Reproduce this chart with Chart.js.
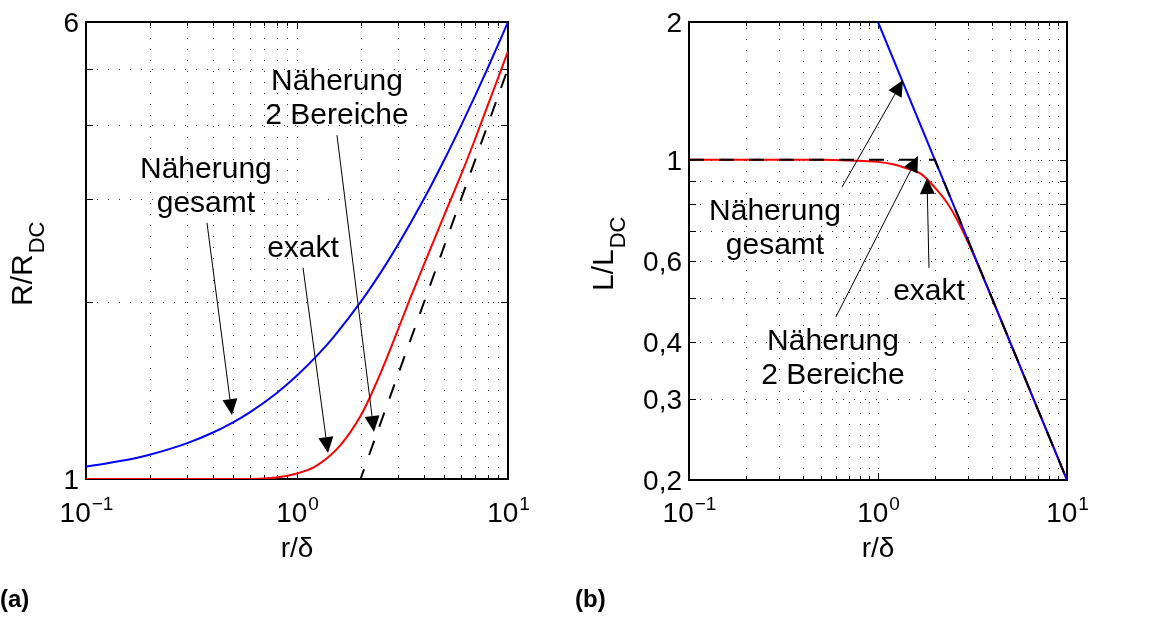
<!DOCTYPE html>
<html>
<head>
<meta charset="utf-8">
<script src="https://cdn.jsdelivr.net/npm/chart.js@4.4.1/dist/chart.umd.min.js"></script>
<style>
  html, body { margin: 0; padding: 0; background: #fff; }
  #wrap { position: relative; width: 1158px; height: 621px; }
  canvas { position: absolute; top: 0; }
</style>
</head>
<body>
<div id="wrap">
  <canvas id="chartR" width="570" height="621" style="left:0"></canvas>
  <canvas id="chartL" width="588" height="621" style="left:570px"></canvas>
</div>
<script>
// r/delta axis (shared by both panels)
const xDecades = [0.1, 1, 10];
const xDecadeExp = ['\u22121', '0', '1'];
const xMinor = [0.2, 0.3, 0.4, 0.5, 0.6, 0.7, 0.8, 0.9, 2, 3, 4, 5, 6, 7, 8, 9];

// (a) R/R_DC
const rTicks = [1, 2, 3, 4, 5, 6];
const rTickLabels = ['1', '', '', '', '', '6'];
const rExactX = [0.1, 0.5, 0.7, 0.8, 0.9, 1.0, 1.2, 1.4, 1.6, 1.8, 2.0, 2.2, 2.5, 2.8, 3.0, 3.4, 4.0, 5.0, 6.0, 7.0, 8.0, 9.0, 10];
const rExactY = [1.0, 1.0, 1.002, 1.006, 1.013, 1.022, 1.047, 1.088, 1.14, 1.205, 1.28, 1.37, 1.52, 1.68, 1.79, 2.01, 2.32, 2.82, 3.30, 3.80, 4.32, 4.83, 5.35];
const rTotalX = [0.1, 0.15, 0.2, 0.3, 0.4, 0.5, 0.6, 0.8, 1, 1.25, 1.5, 2, 2.5, 3, 4, 5, 6, 7, 8, 9, 10];
const rTotalY = [1.05, 1.075, 1.1, 1.15, 1.2, 1.25, 1.3, 1.4, 1.5, 1.625, 1.75, 2, 2.25, 2.5, 3, 3.5, 4, 4.5, 5, 5.5, 6];
const rTwoX = [0.1, 2, 10];
const rTwoY = [1, 1, 5];

// (b) L/L_DC
const lTicks = [0.2, 0.3, 0.4, 0.5, 0.6, 0.7, 0.8, 0.9, 1, 2];
const lTickLabels = ['0,2', '0,3', '0,4', '', '0,6', '', '', '', '1', '2'];
const lExactX = [0.1, 0.5, 0.7, 1, 1.2, 1.4, 1.7, 2, 2.3, 2.6, 3, 3.5, 4, 5, 6, 8, 10];
const lExactY = [1, 1, 0.997, 0.99, 0.978, 0.96, 0.93, 0.87, 0.81, 0.745, 0.66, 0.57, 0.5, 0.4, 0.333, 0.25, 0.2];
const lTotalX = [1, 10];
const lTotalY = [2, 0.2];
const lTwoX = [0.1, 2, 10];
const lTwoY = [1, 1, 0.2];

// labelled arrows, positions in data units: text anchor, line start, arrow tip
const rNotes = [
  { lines: ['Näherung', 'gesamt'], at: [0.370, 3.25], from: [0.3745, 2.73], to: [0.492, 1.285] },
  { lines: ['exakt'], at: [1.068, 2.39], from: [1.068, 2.29], to: [1.403, 1.107] },
  { lines: ['Näherung', '2 Bereiche'], at: [1.547, 4.60], from: [1.547, 3.85], to: [2.317, 1.202] }
];
const lNotes = [
  { lines: ['Näherung', 'gesamt'], at: [0.285, 0.739], from: [0.645, 0.872], to: [1.356, 1.494] },
  { lines: ['exakt'], at: [1.861, 0.494], from: [1.861, 0.581], to: [1.817, 0.913] },
  { lines: ['Näherung', '2 Bereiche'], at: [0.578, 0.3845], from: [0.599, 0.454], to: [1.628, 1.02] }
];

const FONT = '"Liberation Sans", Arial, Helvetica, sans-serif';
const BLUE = '#0000ff', RED = '#ff0000', BLACK = '#000000';

function pts(xs, ys) {
  return xs.map((x, i) => ({ x: x, y: ys[i] }));
}

function curve(label, xs, ys, color, dashed) {
  return {
    label: label,
    data: pts(xs, ys),
    borderColor: color,
    borderWidth: 2,
    borderDash: dashed ? [15, 15] : [],
    pointRadius: 0,
    fill: false,
    cubicInterpolationMode: dashed ? 'default' : 'monotone'
  };
}

// matlab-like box, dotted grid, inner ticks, labels and arrows
function axesPlugin(spec) {
  return {
    id: 'matlabAxes',
    beforeDatasetsDraw(chart) {
      const { ctx, chartArea: a, scales: { x, y } } = chart;
      ctx.save();
      ctx.strokeStyle = '#333';
      ctx.lineWidth = 1;
      ctx.setLineDash([1, 10]);
      ctx.beginPath();
      xDecades.concat(xMinor).forEach(v => {
        const px = Math.round(x.getPixelForValue(v)) + 0.5;
        ctx.moveTo(px, a.bottom);
        ctx.lineTo(px, a.top);
      });
      spec.yTicks.forEach(v => {
        const py = Math.round(y.getPixelForValue(v)) + 0.5;
        ctx.moveTo(a.left, py);
        ctx.lineTo(a.right, py);
      });
      ctx.stroke();
      ctx.setLineDash([]);

      // ticks on all four sides, pointing inwards
      ctx.strokeStyle = BLACK;
      ctx.beginPath();
      xDecades.concat(xMinor).forEach(v => {
        const px = Math.round(x.getPixelForValue(v)) + 0.5;
        const len = xDecades.includes(v) ? 7 : 4;
        ctx.moveTo(px, a.bottom); ctx.lineTo(px, a.bottom - len);
        ctx.moveTo(px, a.top); ctx.lineTo(px, a.top + len);
      });
      spec.yTicks.forEach(v => {
        const py = Math.round(y.getPixelForValue(v)) + 0.5;
        ctx.moveTo(a.left, py); ctx.lineTo(a.left + 7, py);
        ctx.moveTo(a.right, py); ctx.lineTo(a.right - 7, py);
      });
      ctx.stroke();

      // box under the curves so the y=1 lines stay visible
      ctx.lineWidth = 2;
      ctx.strokeRect(a.left, a.top, a.right - a.left, a.bottom - a.top);
      ctx.restore();
    },
    afterDatasetsDraw(chart) {
      const { ctx, chartArea: a, scales: { x, y } } = chart;
      ctx.save();
      ctx.strokeStyle = BLACK;
      ctx.fillStyle = BLACK;

      // y tick labels
      ctx.font = '28px ' + FONT;
      ctx.textAlign = 'right';
      ctx.textBaseline = 'alphabetic';
      spec.yTicks.forEach((v, i) => {
        if (!spec.yLabels[i]) return;
        ctx.fillText(spec.yLabels[i], a.left - 7, y.getPixelForValue(v) + 10);
      });

      // x tick labels 10^n
      xDecades.forEach((v, i) => {
        const px = x.getPixelForValue(v);
        ctx.font = '28px ' + FONT;
        const wBase = ctx.measureText('10').width;
        ctx.font = '19px ' + FONT;
        const wExp = ctx.measureText(xDecadeExp[i]).width;
        const left = px - (wBase + wExp) / 2;
        ctx.textAlign = 'left';
        ctx.font = '28px ' + FONT;
        ctx.fillText('10', left, 522);
        ctx.font = '19px ' + FONT;
        ctx.fillText(xDecadeExp[i], left + wBase + 1, 510);
      });

      // x title
      ctx.font = '28px ' + FONT;
      ctx.textAlign = 'center';
      ctx.fillText('r/\u03b4', (a.left + a.right) / 2, 557);

      // y title with subscript, rotated
      ctx.save();
      ctx.translate(spec.yTitleX, spec.yTitleStart);
      ctx.rotate(-Math.PI / 2);
      ctx.textAlign = 'left';
      ctx.font = '30px ' + FONT;
      ctx.fillText(spec.yTitle, 0, 0);
      const wMain = ctx.measureText(spec.yTitle).width;
      ctx.font = '22px ' + FONT;
      ctx.fillText(spec.yTitleSub, wMain + 1, 12);
      ctx.restore();

      // annotations
      spec.notes.forEach(n => {
        const tx = x.getPixelForValue(n.at[0]);
        const ty = y.getPixelForValue(n.at[1]);
        ctx.font = '30px ' + FONT;
        ctx.textAlign = 'center';
        n.lines.forEach((t, k) => ctx.fillText(t, tx, ty + k * 34));

        const x0 = x.getPixelForValue(n.from[0]), y0 = y.getPixelForValue(n.from[1]);
        const x1 = x.getPixelForValue(n.to[0]), y1 = y.getPixelForValue(n.to[1]);
        const ang = Math.atan2(y1 - y0, x1 - x0);
        const headLen = 16, headHalf = 7.5;
        const bx = x1 - headLen * Math.cos(ang), by = y1 - headLen * Math.sin(ang);
        ctx.lineWidth = 1;
        ctx.beginPath();
        ctx.moveTo(x0, y0);
        ctx.lineTo(bx, by);
        ctx.stroke();
        ctx.beginPath();
        ctx.moveTo(x1, y1);
        ctx.lineTo(bx + headHalf * Math.sin(ang), by - headHalf * Math.cos(ang));
        ctx.lineTo(bx - headHalf * Math.sin(ang), by + headHalf * Math.cos(ang));
        ctx.closePath();
        ctx.fill();
      });

      // panel letter
      ctx.font = 'bold 24px ' + FONT;
      ctx.textAlign = 'left';
      ctx.fillText(spec.panel, spec.panelX, 607);
      ctx.restore();
    }
  };
}

function makeChart(id, datasets, yMin, yMax, padding, spec) {
  return new Chart(document.getElementById(id), {
    type: 'line',
    data: { datasets: datasets },
    options: {
      responsive: false,
      animation: false,
      devicePixelRatio: 1,
      layout: { padding: padding },
      scales: {
        x: { type: 'logarithmic', min: 0.1, max: 10, display: false },
        y: { type: 'logarithmic', min: yMin, max: yMax, display: false }
      },
      plugins: {
        legend: { display: false },
        tooltip: { enabled: false }
      }
    },
    plugins: [axesPlugin(spec)]
  });
}

makeChart('chartR', [
  curve('exakt', rExactX, rExactY, RED, false),
  curve('Näherung gesamt', rTotalX, rTotalY, BLUE, false),
  curve('Näherung 2 Bereiche', rTwoX, rTwoY, BLACK, true)
], 1, 6, { left: 86, right: 62, top: 22, bottom: 142 }, {
  yTicks: rTicks, yLabels: rTickLabels, notes: rNotes,
  yTitle: 'R/R', yTitleSub: 'DC', yTitleX: 32, yTitleStart: 306,
  panel: '(a)', panelX: 0
});

makeChart('chartL', [
  curve('Näherung 2 Bereiche', lTwoX, lTwoY, BLACK, true),
  curve('Näherung gesamt', lTotalX, lTotalY, BLUE, false),
  curve('exakt', lExactX, lExactY, RED, false)
], 0.2, 2, { left: 119, right: 91, top: 22, bottom: 141 }, {
  yTicks: lTicks, yLabels: lTickLabels, notes: lNotes,
  yTitle: 'L/L', yTitleSub: 'DC', yTitleX: 43, yTitleStart: 291,
  panel: '(b)', panelX: 5
});
</script>
</body>
</html>
